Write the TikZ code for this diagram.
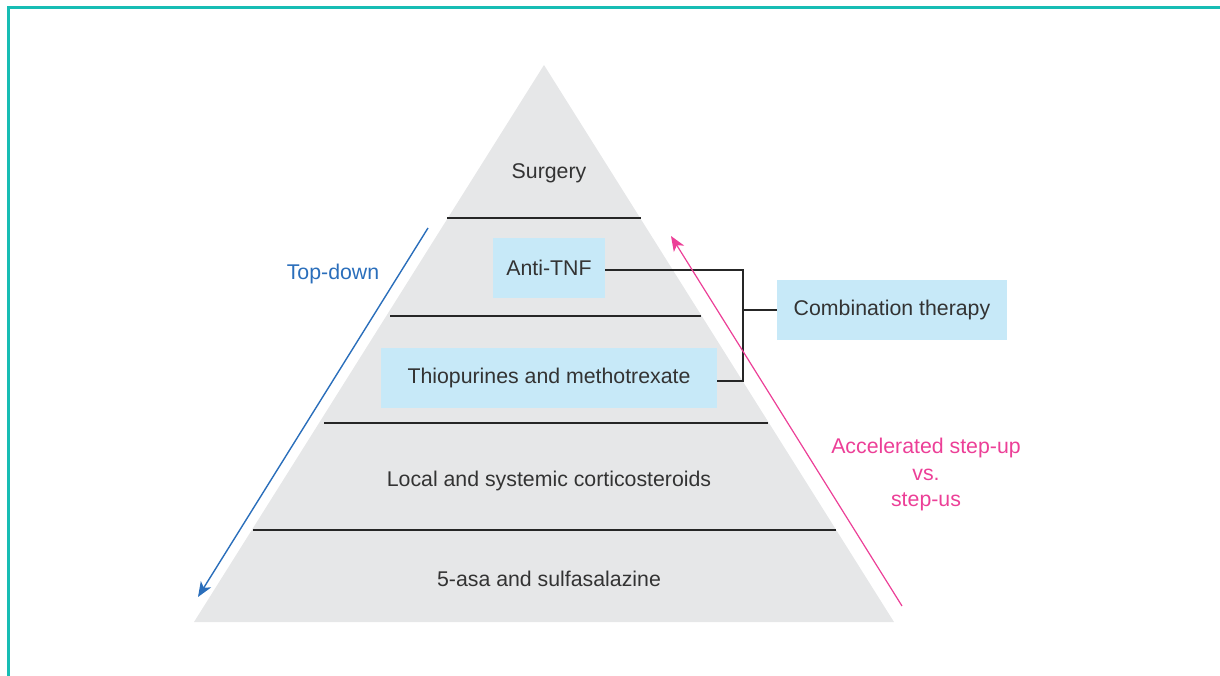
\documentclass[tikz,border=0pt]{standalone}
\usepackage{fontspec}
\setmainfont{Liberation Sans}
\usetikzlibrary{arrows.meta}
\definecolor{frame}{HTML}{17BDB4}
\definecolor{pyr}{HTML}{E6E7E8}
\definecolor{boxfill}{HTML}{C7E9F8}
\definecolor{txt}{HTML}{333333}
\definecolor{blueline}{HTML}{2A6EBB}
\definecolor{pinkline}{HTML}{EC3F97}
\tikzset{
  lbl/.style={font=\fontsize{21.3}{25}\selectfont, text=txt, inner sep=0pt},
  drugbox/.style={fill=boxfill, minimum height=60pt, inner sep=0pt, font=\fontsize{21.3}{25}\selectfont, text=txt},
  divider/.style={line width=2.2pt, draw=black!85},
  bracket/.style={line width=2.4pt, draw=black!85},
}
\begin{document}
\begin{tikzpicture}[x=1pt,y=-1pt]
\useasboundingbox (0,0) rectangle (1220,676);
% frame (top and left sides only)
\draw[frame, line width=3pt] (8,676) -- (8,8) -- (1220,8);
% pyramid
\coordinate (apex) at (544,65);
\coordinate (bl) at (194,622);
\coordinate (br) at (894,622);
\fill[pyr] (apex) -- (br) -- (bl) -- cycle;
% level dividers
\coordinate (d1l) at (447,218); \coordinate (d1r) at (641,218);
\coordinate (d2l) at (390,316); \coordinate (d2r) at (701,316);
\coordinate (d3l) at (324,423); \coordinate (d3r) at (768,423);
\coordinate (d4l) at (253,530); \coordinate (d4r) at (836,530);
\draw[divider] (d1l) -- (d1r);
\draw[divider] (d2l) -- (d2r);
\draw[divider] (d3l) -- (d3r);
\draw[divider] (d4l) -- (d4r);
% level labels
\node[lbl] (surg) at (549,173.5) {Surgery};
\node[drugbox, minimum width=112pt] (tnf) at (549,268) {Anti-TNF};
\node[drugbox, minimum width=336pt] (thio) at (549,378) {Thiopurines and methotrexate};
\node[lbl] (cort) at (549,480.5) {Local and systemic corticosteroids};
\node[lbl] (asa) at (549,578.5) {5-asa and sulfasalazine};
\node[drugbox, minimum width=230pt] (combo) at (892,310) {Combination therapy};
% combination bracket
\coordinate (bx) at (743,310);
\draw[bracket] (tnf.east |- 0,270) -- (743,270) -- (743,381) -- (thio.east |- 0,381);
\draw[bracket] (bx) -- (combo.west);
% top-down arrow
\coordinate (tdstart) at (428,228);
\coordinate (tdend) at (198,597);
\draw[blueline, line width=1.4pt, -{Stealth[length=15pt,width=12pt,inset=4pt]}] (tdstart) -- (tdend);
\node[lbl, text=blueline] (td) at (333,274) {Top-down};
% step-up arrow
\coordinate (sustart) at (902,606);
\coordinate (suend) at (671,236);
\draw[pinkline, line width=1.2pt, -{Stealth[length=15pt,width=12pt,inset=4pt]}] (sustart) -- (suend);
\node[lbl, text=pinkline, align=center, font=\fontsize{21.3}{26.5}\selectfont] (su) at (926,474.5) {Accelerated step-up\\vs.\\step-us};
\end{tikzpicture}
\end{document}
